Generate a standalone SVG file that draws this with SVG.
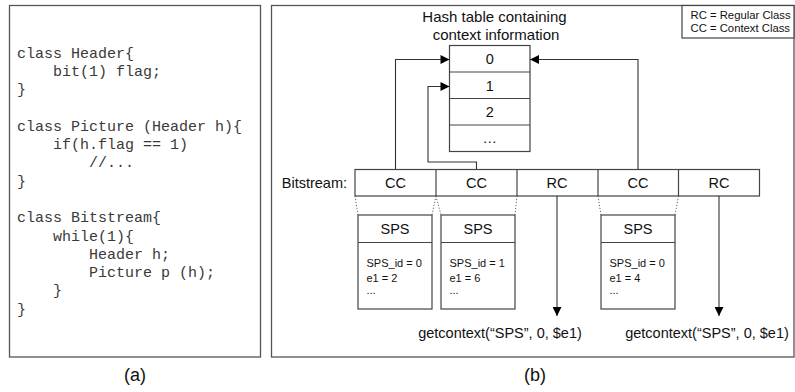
<svg xmlns="http://www.w3.org/2000/svg" width="795" height="392" viewBox="0 0 795 392">
  <style>
    .frame { fill: #fff; stroke: #555; stroke-width: 1.3; }
    .box { fill: #fff; stroke: #444; stroke-width: 1.2; }
    .line { fill: none; stroke: #333; stroke-width: 1.1; }
    .dot { fill: none; stroke: #555; stroke-width: 0.9; stroke-dasharray: 1.2 1.8; }
    .code { font-family: "Liberation Mono", "Courier New", monospace; font-size: 15px; fill: #3a3a3a; }
    .lbl { font-family: "Liberation Sans", Arial, sans-serif; font-size: 14.5px; fill: #111; }
    .title { font-size: 15px; }
    .mid { text-anchor: middle; }
    .small { font-family: "Liberation Sans", Arial, sans-serif; font-size: 11px; fill: #111; }
    .legend { font-size: 11.3px; }
    .cap { font-family: "Liberation Sans", Arial, sans-serif; font-size: 18px; fill: #111; text-anchor: middle; }
  </style>
  <defs>
    <marker id="arrow" viewBox="0 0 10 10" refX="10" refY="5" markerWidth="10" markerHeight="9" markerUnits="userSpaceOnUse" orient="auto">
      <path d="M0,0 L10,5 L0,10 Z" fill="#000"/>
    </marker>
  </defs>
  <rect width="795" height="392" fill="#fff"/>

  <!-- (a) syntax description -->
  <g id="code-panel">
    <rect class="frame" x="9.5" y="5.5" width="251" height="351.5"/>
    <text class="code" xml:space="preserve">
      <tspan x="17" y="57.5">class Header{</tspan>
      <tspan x="17" y="75.8">    bit(1) flag;</tspan>
      <tspan x="17" y="94.1">}</tspan>
      <tspan x="17" y="130.7">class Picture (Header h){</tspan>
      <tspan x="17" y="149">    if(h.flag == 1)</tspan>
      <tspan x="17" y="167.3">        //...</tspan>
      <tspan x="17" y="185.6">}</tspan>
      <tspan x="17" y="222.2">class Bitstream{</tspan>
      <tspan x="17" y="240.5">    while(1){</tspan>
      <tspan x="17" y="258.8">        Header h;</tspan>
      <tspan x="17" y="277.1">        Picture p (h);</tspan>
      <tspan x="17" y="295.4">    }</tspan>
      <tspan x="17" y="313.7">}</tspan>
    </text>
    <text class="cap" x="135" y="381">(a)</text>
  </g>

  <!-- (b) context handling -->
  <g id="context-panel">
    <rect class="frame" x="271.5" y="5.5" width="522.5" height="351.5"/>
    <text class="cap" x="535" y="381">(b)</text>
  </g>

  <g id="legend">
    <rect class="box" x="682" y="5.5" width="112" height="32.5"/>
    <text class="small legend" x="690.5" y="18.5">RC = Regular Class</text>
    <text class="small legend" x="690.5" y="31.5">CC = Context Class</text>
  </g>

  <g id="hash-table">
    <text class="lbl title mid" x="494.5" y="22">Hash table containing</text>
    <text class="lbl title mid" x="496" y="40">context information</text>
    <rect class="box" x="449.5" y="45.5" width="80.5" height="106"/>
    <line class="box" x1="449.5" y1="72" x2="530" y2="72"/>
    <line class="box" x1="449.5" y1="98.5" x2="530" y2="98.5"/>
    <line class="box" x1="449.5" y1="125" x2="530" y2="125"/>
    <text class="lbl mid" x="489.7" y="64">0</text>
    <text class="lbl mid" x="489.7" y="90.5">1</text>
    <text class="lbl mid" x="489.7" y="117">2</text>
    <text class="lbl mid" x="489.7" y="143">…</text>
  </g>

  <g id="bitstream">
    <text class="lbl" x="347" y="187.5" text-anchor="end">Bitstream:</text>
    <rect class="box" x="355" y="169.5" width="404.5" height="26.5"/>
    <line class="box" x1="436" y1="169.5" x2="436" y2="196"/>
    <line class="box" x1="517" y1="169.5" x2="517" y2="196"/>
    <line class="box" x1="598" y1="169.5" x2="598" y2="196"/>
    <line class="box" x1="678.5" y1="169.5" x2="678.5" y2="196"/>
    <text class="lbl mid" x="395.5" y="187.5">CC</text>
    <text class="lbl mid" x="476.5" y="187.5">CC</text>
    <text class="lbl mid" x="557" y="187.5">RC</text>
    <text class="lbl mid" x="638" y="187.5">CC</text>
    <text class="lbl mid" x="719" y="187.5">RC</text>
  </g>

  <g id="sps-0">
    <rect class="box" x="358" y="215" width="74" height="94"/>
    <line class="box" x1="358" y1="242.5" x2="432" y2="242.5"/>
    <text class="lbl mid" x="395" y="234">SPS</text>
    <text class="small" x="366.5" y="266.5">SPS_id = 0</text>
    <text class="small" x="366.5" y="281.5">e1 = 2</text>
    <text class="small" x="366.5" y="294">...</text>
  </g>

  <g id="sps-1">
    <rect class="box" x="441" y="215" width="74" height="94"/>
    <line class="box" x1="441" y1="242.5" x2="515" y2="242.5"/>
    <text class="lbl mid" x="478" y="234">SPS</text>
    <text class="small" x="449.5" y="266.5">SPS_id = 1</text>
    <text class="small" x="449.5" y="281.5">e1 = 6</text>
    <text class="small" x="449.5" y="294">...</text>
  </g>

  <g id="sps-2">
    <rect class="box" x="601" y="215" width="74" height="94"/>
    <line class="box" x1="601" y1="242.5" x2="675" y2="242.5"/>
    <text class="lbl mid" x="638" y="234">SPS</text>
    <text class="small" x="609.5" y="266.5">SPS_id = 0</text>
    <text class="small" x="609.5" y="281.5">e1 = 4</text>
    <text class="small" x="609.5" y="294">...</text>
  </g>

  <g id="calls">
    <text class="lbl mid" x="500" y="337.5">getcontext(“SPS”, 0, $e1)</text>
    <text class="lbl mid" x="707" y="337.5">getcontext(“SPS”, 0, $e1)</text>
  </g>

  <g id="connectors">
    <path class="line" d="M395.5,169.5 V59.5 H449.5" marker-end="url(#arrow)"/>
    <path class="line" d="M476.5,169.5 V162 H428 V86.5 H449.5" marker-end="url(#arrow)"/>
    <path class="line" d="M638,169.5 V59.5 H530" marker-end="url(#arrow)"/>
    <path class="line" d="M557,196 V316" marker-end="url(#arrow)"/>
    <path class="line" d="M719,196 V316" marker-end="url(#arrow)"/>
    <path class="dot" d="M355,196 L358,215 M436,196 L432,215 M436,196 L441,215 M517,196 L515,215 M598,196 L601,215 M678.5,196 L675,215"/>
  </g>
</svg>
